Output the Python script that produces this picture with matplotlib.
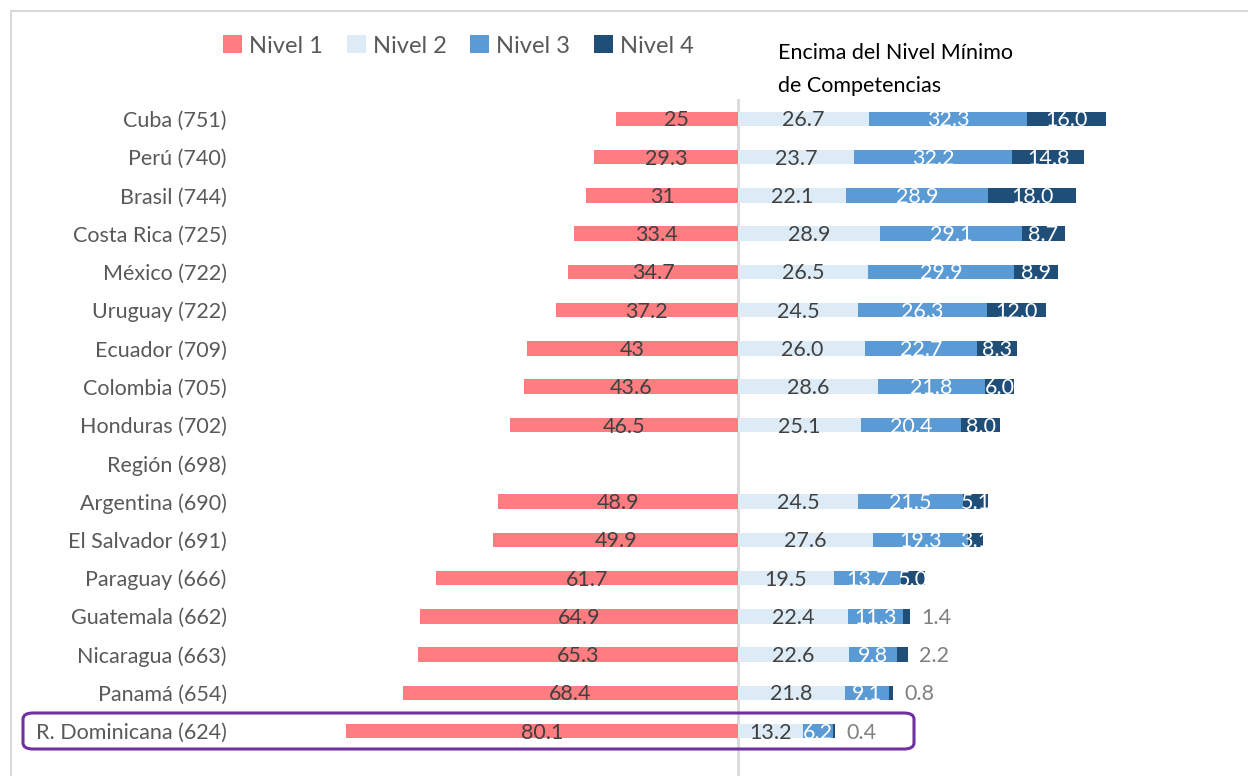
import numpy as np
import matplotlib
matplotlib.use("Agg")
import matplotlib.pyplot as plt
from matplotlib.patches import Rectangle, FancyBboxPatch, Patch

countries = ["Cuba (751)", "Perú (740)", "Brasil (744)", "Costa Rica (725)", "México (722)",
             "Uruguay (722)", "Ecuador (709)", "Colombia (705)", "Honduras (702)", "Región (698)",
             "Argentina (690)", "El Salvador (691)", "Paraguay (666)", "Guatemala (662)",
             "Nicaragua (663)", "Panamá (654)", "R. Dominicana (624)"]
nivel1 = [25, 29.3, 31, 33.4, 34.7, 37.2, 43, 43.6, 46.5, np.nan, 48.9, 49.9, 61.7, 64.9, 65.3, 68.4, 80.1]
nivel2 = [26.7, 23.7, 22.1, 28.9, 26.5, 24.5, 26.0, 28.6, 25.1, np.nan, 24.5, 27.6, 19.5, 22.4, 22.6, 21.8, 13.2]
nivel3 = [32.3, 32.2, 28.9, 29.1, 29.9, 26.3, 22.7, 21.8, 20.4, np.nan, 21.5, 19.3, 13.7, 11.3, 9.8, 9.1, 6.2]
nivel4 = [16.0, 14.8, 18.0, 8.7, 8.9, 12.0, 8.3, 6.0, 8.0, np.nan, 5.1, 3.1, 5.0, 1.4, 2.2, 0.8, 0.4]
legend_labels = ["Nivel 1", "Nivel 2", "Nivel 3", "Nivel 4"]
colors = ["#FF7C80", "#DDEBF7", "#5B9BD5", "#1F4E79"]

plt.rcParams['font.family'] = ['Lato', 'DejaVu Sans']

W, H = 1248, 776
fig = plt.figure(figsize=(W / 100, H / 100), dpi=100)

# outer border
fig.patches.append(Rectangle((11 / W, -0.1), 1.2, 1 - 11 / H + 0.1, transform=fig.transFigure,
                             fill=False, edgecolor="#D9D9D9", linewidth=1.5))

pxu = 4.9
x0 = 738
axl, axr = 235, 1240
ytop, ybot = 99.7, 750.3
ax = fig.add_axes([axl / W, 1 - ybot / H, (axr - axl) / W, (ybot - ytop) / H])
ax.set_xlim(-(x0 - axl) / pxu, (axr - x0) / pxu)
n = len(countries)
ax.set_ylim(n - 0.5, -0.5)
for s in ax.spines.values():
    s.set_visible(False)
ax.set_xticks([])
y = np.arange(n)
ax.set_yticks(y)
ax.set_yticklabels(countries, fontsize=15.5, color="#595959")
ax.tick_params(axis="y", length=0, pad=6)

h = 0.38
n1 = np.array(nivel1, dtype=float)
n2 = np.array(nivel2, dtype=float)
n3 = np.array(nivel3, dtype=float)
n4 = np.array(nivel4, dtype=float)
ax.barh(y, -n1, height=h, color=colors[0], zorder=2)
ax.barh(y, n2, height=h, color=colors[1], zorder=2)
ax.barh(y, n3, left=n2, height=h, color=colors[2], zorder=2)
ax.barh(y, n4, left=n2 + n3, height=h, color=colors[3], zorder=2)

ax.axvline(0, ymin=-0.05, ymax=1.0, color="#D9D9D9", linewidth=2, zorder=1, clip_on=False)

fs = 15.5
dy = 0.04
for i in range(n):
    if np.isnan(n1[i]):
        continue
    ax.text(-n1[i] / 2, i + dy, f"{n1[i]:g}", ha="center", va="center", fontsize=fs, color="#404040", zorder=3)
    ax.text(n2[i] / 2, i + dy, f"{n2[i]:.1f}", ha="center", va="center", fontsize=fs, color="#404040", zorder=3)
    ax.text(n2[i] + n3[i] / 2, i + dy, f"{n3[i]:.1f}", ha="center", va="center", fontsize=fs, color="white", zorder=3)
    if n4[i] >= 3:
        ax.text(n2[i] + n3[i] + n4[i] / 2, i + dy, f"{n4[i]:.1f}", ha="center", va="center", fontsize=fs,
                color="white", zorder=3)
    else:
        ax.text(n2[i] + n3[i] + n4[i] + 2.3, i + dy, f"{n4[i]:.1f}", ha="left", va="center", fontsize=fs,
                color="#808080", zorder=3)

# highlight box around R. Dominicana
box = FancyBboxPatch((23 / W, 1 - 749 / H), (914 - 23) / W, (749 - 713) / H,
                     boxstyle="round,pad=0,rounding_size=0.008", transform=fig.transFigure,
                     fill=False, edgecolor="#7030A0", linewidth=2.2)
fig.patches.append(box)

handles = [Patch(facecolor=c, edgecolor="none") for c in colors]
fig.legend(handles, legend_labels, loc="center left", bbox_to_anchor=(202 / W, 1 - 46 / H), ncol=4,
           frameon=False, fontsize=17, labelcolor="#595959",
           handlelength=0.8, handleheight=0.8, handletextpad=0.3, columnspacing=1.0)

fig.text(778 / W, 1 - 53 / H, "Encima del Nivel Mínimo", fontsize=15.5, color="black", va="center", ha="left")
fig.text(778 / W, 1 - 86 / H, "de Competencias", fontsize=15.5, color="black", va="center", ha="left")

fig.savefig("out.png", dpi=100)
